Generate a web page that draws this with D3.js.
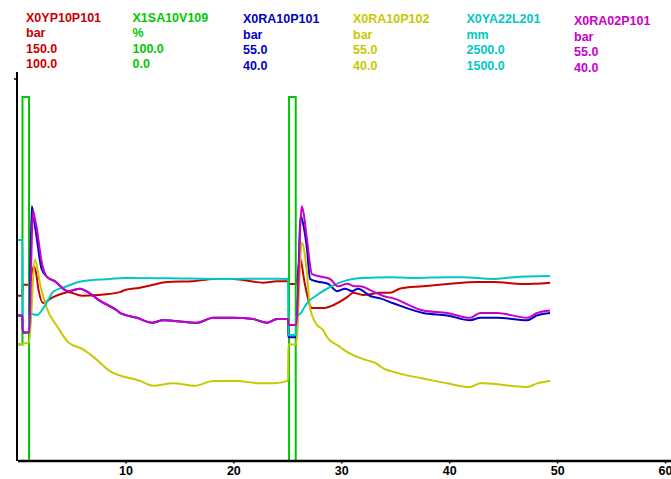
<!DOCTYPE html>
<html>
<head>
<meta charset="utf-8">
<script src="https://cdn.jsdelivr.net/npm/d3@7"></script>
<style>
body { margin: 0; background: #fff; }
svg text { font-family: "Liberation Sans", Arial, sans-serif; font-weight: bold; font-size: 12.5px; }
</style>
</head>
<body>
<div id="chart"></div>
<script>
// Frame
const FRAME_WIDTH = 671;
const FRAME_HEIGHT = 479;
const PLOT = {left: 17.5, right: 671, top: 97, bottom: 461};

// Legend / channel info
const NAMES = ["X0YP10P101", "X1SA10V109", "X0RA10P101", "X0RA10P102", "X0YA22L201", "X0RA02P101"];
const UNITS = ["bar", "%", "bar", "bar", "mm", "bar"];
const MAXS = [150.0, 100.0, 55.0, 55.0, 2500.0, 55.0];
const MINS = [100.0, 0.0, 40.0, 40.0, 1500.0, 40.0];
const COLORS = ["#c80000", "#00c800", "#0000c8", "#c8c800", "#00c8c8", "#c800c8"];
const X_TICKS = [10, 20, 30, 40, 50, 60];

// Series values [time s, value]
const RED = [[0,122.7],[0.46,122.7],[0.48,124.2],[1.07,124.2],[1.3,125.6],[1.5,126.7],[1.7,126.0],[1.95,123.5],[2.36,121.7],
  [3.29,122.5],[4.4,123.1],[4.68,123.2],[5.98,122.7],[7.46,122.8],[9.5,123.2],[9.96,123.5],[11.35,123.8],[12.56,124.2],
  [13.86,124.6],[16.26,124.7],[18.12,125.0],[19.97,125.0],[22.75,124.5],[24.05,124.7],[25.07,124.7],[25.16,124.3],
  [25.81,124.3],[26.18,127.9],[26.6,124.5],[27.29,121.0],[28.32,121.0],[29.25,121.4],[30.54,122.5],[31.1,123.1],
  [32.02,122.8],[33.61,123.1],[34.52,123.1],[35.46,123.7],[37.58,124.0],[39.81,124.3],[42.59,124.6],[44.07,124.6],
  [46.85,124.3],[49.35,124.5]];
const GREEN = [[0,32],[0.46,32],[0.46,100],[1.07,100],[1.07,0],[25.16,0],[25.16,100],[25.78,100],[25.78,0],[49.5,0]];
const BLUE = [[0,46.0],[0.46,46.0],[0.48,45.3],[1.07,45.3],[1.32,50.5],[1.55,49.9],[1.78,49.2],[2.24,47.9],[2.71,47.6],[3.48,47.4],
  [4.68,47.0],[5.79,47.1],[6.72,46.9],[7.65,46.6],[9.22,46.2],[9.5,46.1],[11.07,45.9],[12.47,45.7],[13.48,45.8],
  [16.64,45.7],[18.12,45.9],[19.97,45.9],[21.83,45.85],[23.12,45.7],[24.05,45.85],[25.07,45.85],[25.09,45.1],
  [25.81,45.1],[26.25,50.1],[26.5,49.7],[26.83,48.7],[27.11,47.5],[27.76,47.4],[28.78,47.3],[29.62,47.0],[30.35,47.1],[31.01,47.0],
  [31.56,47.1],[32.67,46.8],[33.61,46.7],[34.82,46.5],[37.58,46.1],[39.81,46.0],[41.94,45.8],[42.87,45.9],[44.44,45.9],
  [47.22,45.8],[48.15,46.0],[49.35,46.1]];
const YELLOW = [[0,44.8],[1.07,44.9],[1.62,48.3],[2.09,47.3],[2.71,46.3],[3.75,45.5],[4.68,44.9],[6.07,44.6],[7.0,44.3],
  [8.57,43.7],[11.35,43.3],[12.56,43.1],[14.41,43.2],[16.45,43.1],[18.12,43.3],[20.34,43.3],[22.47,43.2],[23.68,43.2],
  [25.07,43.3],[25.09,44.8],[25.81,44.8],[26.34,49.0],[26.83,47.7],[27.11,46.3],[27.76,45.6],[28.32,45.4],[28.68,45.1],
  [29.89,44.7],[30.17,44.6],[32.02,44.2],[33.32,44.0],[33.61,43.9],[35.46,43.6],[37.58,43.4],[39.81,43.2],[41.94,43.05],
  [42.87,43.2],[43.15,43.2],[47.22,43.05],[48.15,43.2],[49.35,43.3]];
const CYAN = [[0,2107],[0.46,2107],[0.48,1852],[1.07,1852],[1.09,1904],[1.32,1904],[1.78,1901],[2.83,1942],[3.3,1965],
  [4.4,1978],[5.98,1994],[8.57,2000],[9.96,2003],[14,2002],[19,2000],[24,2001],[25.07,2000],[25.09,1846],[25.81,1846],
  [25.83,1898],[26.18,1904],[26.83,1934],[27.76,1956],[28.96,1978],[30.54,1997],[32.02,2003],[34.52,2005],[36.66,2003],
  [39.81,2005],[41.29,2005],[44.07,2000],[45.92,2005],[49.35,2008]];
const MAGENTA = [[0,46.0],[0.46,46.0],[0.48,45.3],[1.07,45.3],[1.44,50.3],[1.6,50.0],[1.78,49.6],[2.24,48.2],[2.71,47.6],[3.48,47.4],
  [4.68,47.0],[5.79,47.1],[6.72,46.9],[7.65,46.6],[9.22,46.2],[9.5,46.1],[11.07,45.9],[12.47,45.7],[13.48,45.8],
  [16.64,45.7],[18.12,45.9],[19.97,45.9],[21.83,45.85],[23.12,45.7],[24.05,45.85],[25.07,45.85],[25.09,45.6],
  [25.81,45.6],[26.34,50.5],[26.55,50.1],[26.83,49.1],[27.29,47.7],[28.04,47.6],[28.96,47.5],[29.7,47.2],[30.54,47.3],[31.28,47.2],
  [31.75,47.2],[32.86,47.0],[33.9,46.8],[34.82,46.7],[37.58,46.2],[39.81,46.1],[41.94,45.9],[42.87,46.1],[44.44,46.1],
  [47.22,45.9],[48.15,46.1],[49.35,46.2]];
const SERIES = [RED, GREEN, BLUE, YELLOW, CYAN, MAGENTA];
const STEPPED = [false, true, false, false, false, false];

const svg = d3.select("#chart")
  .append("svg")
    .attr("width", FRAME_WIDTH)
    .attr("height", FRAME_HEIGHT);

svg.append("rect").attr("width", FRAME_WIDTH).attr("height", FRAME_HEIGHT).attr("fill", "#fff");

// header columns
const COL_X = [26, 132.5, 243, 353, 466.5, 574];
const COL_DY = [0, 0, 1.5, 1.5, 1.5, 3.5];
NAMES.forEach((n, i) => {
  const rows = [n, UNITS[i], MAXS[i].toFixed(1), MINS[i].toFixed(1)];
  svg.append("g").selectAll("text")
    .data(rows)
    .enter()
    .append("text")
      .attr("x", COL_X[i])
      .attr("y", (d, j) => 21.7 + COL_DY[i] + j * 15.5)
      .attr("fill", COLORS[i])
      .text(d => d);
});

// scales
const x = d3.scaleLinear().domain([0, 60.55]).range([PLOT.left, PLOT.right]);

SERIES.forEach((data, i) => {
  const y = d3.scaleLinear().domain([MINS[i], MAXS[i]]).range([PLOT.bottom, PLOT.top]);
  const line = d3.line().x(d => x(d[0])).y(d => y(d[1]))
    .curve(STEPPED[i] ? d3.curveLinear : d3.curveMonotoneX);
  svg.append("path")
    .datum(data)
    .attr("fill", "none")
    .attr("stroke", COLORS[i])
    .attr("stroke-width", 2)
    .attr("stroke-linejoin", STEPPED[i] ? "miter" : "round")
    .attr("d", line);
});

// x axis
const xAxis = svg.append("g")
  .attr("transform", `translate(0,${PLOT.bottom - 0.5})`)
  .call(d3.axisBottom(x).tickValues(X_TICKS).tickSize(3).tickSizeOuter(0).tickPadding(3));
xAxis.select(".domain").attr("stroke", "#000").attr("stroke-width", 2.5);
xAxis.selectAll(".tick line").attr("stroke", "#000").attr("stroke-width", 1.5);
xAxis.selectAll("text").attr("fill", "#000").attr("font-size", 12)
  .attr("font-family", "'Liberation Sans', Arial, sans-serif").attr("font-weight", "bold");

// left axis line with small top tick
svg.append("line").attr("x1", 17).attr("x2", 17).attr("y1", 72).attr("y2", PLOT.bottom)
  .attr("stroke", "#000").attr("stroke-width", 2);
svg.append("line").attr("x1", 14).attr("x2", 17).attr("y1", 79).attr("y2", 79)
  .attr("stroke", "#000").attr("stroke-width", 1.5);
</script>
</body>
</html>
